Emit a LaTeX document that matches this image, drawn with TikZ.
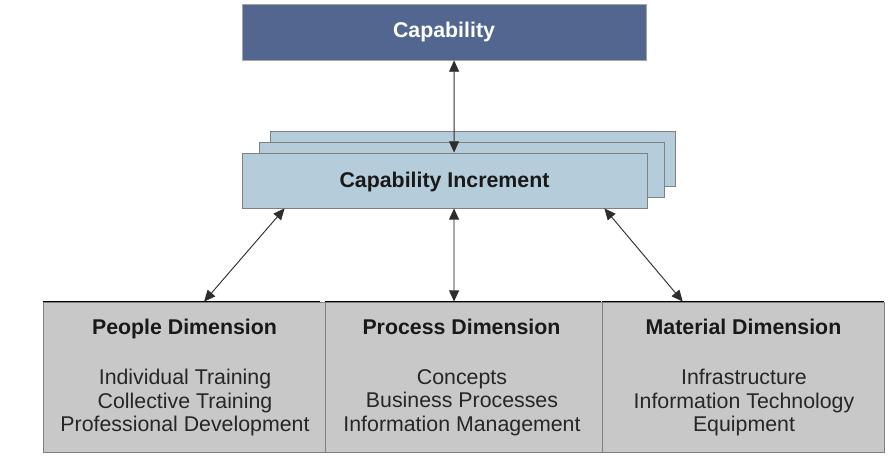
\documentclass[tikz,border=0pt]{standalone}
\usepackage{fontspec}
\setmainfont{Liberation Sans}
\usetikzlibrary{calc,arrows.meta}
\definecolor{capblue}{HTML}{526690}
\definecolor{incblue}{HTML}{B5CCDA}
\definecolor{dimgray}{HTML}{C8C8C8}
\definecolor{arrowc}{HTML}{2E2E2E}
\tikzset{
  txt/.style={font=\fontsize{16}{17.7}\selectfont, inner sep=0pt, align=center},
  btxt/.style={font=\fontsize{16}{17.7}\selectfont\bfseries, inner sep=0pt, anchor=base},
  capbox/.style={fill=capblue, draw=gray!70, line width=0.6pt, minimum width=303pt, minimum height=42pt, inner sep=0pt},
  incbox/.style={fill=incblue, draw=gray, line width=0.6pt, minimum width=303.75pt, minimum height=41.25pt, inner sep=0pt},
  dimbox/.style={fill=dimgray, draw=gray, line width=0.6pt, minimum height=112.5pt, inner sep=0pt},
  topline/.style={black, line width=1.2pt},
  conn/.style={arrowc, line width=0.7pt, {Triangle[length=8.5pt,width=7.5pt,color=arrowc]}-{Triangle[length=8.5pt,width=7.5pt,color=arrowc]}}
}
\begin{document}
\begin{tikzpicture}[x=0.75pt,y=-0.75pt]
\useasboundingbox (0,0) rectangle (893,460);
% Capability
\node[capbox] (cap) at (444,32) {};
\node[btxt, text=white] (captxt) at (444,37.5) {Capability};
% Capability increment stack
\node[incbox] (inc3) at (472.5,158.5) {};
\node[incbox] (inc2) at (461.5,169.5) {};
\node[incbox] (inc) at (444.5,180.5) {};
\node[btxt, text=black!90] (inctxt) at (444.5,187.5) {Capability Increment};
% Dimension boxes
\node[dimbox, minimum width=211.5pt] (ppl) at (184,377) {};
\node[dimbox, minimum width=207.75pt] (proc) at (463.5,377) {};
\node[dimbox, minimum width=211.5pt] (mat) at (743,377) {};
\draw[topline] (ppl.north west) -- ([xshift=-4pt]ppl.north east);
\draw[topline] (proc.north west) -- ([xshift=-1pt]proc.north east);
\draw[topline] (mat.north west) -- (mat.north east);
% Dimension texts
\node[btxt, text=black!90] (ppltitle) at (184.5,334.5) {People Dimension};
\node[txt, text=black!85] (ppllist) at (185,402.5) {Individual Training\\Collective Training\\Professional Development};
\node[btxt, text=black!90] (proctitle) at (461.5,334.5) {Process Dimension};
\node[txt, text=black!85] (proclist) at (462,402.5) {Concepts\\Business Processes\\Information Management};
\node[btxt, text=black!90] (mattitle) at (743.5,334.5) {Material Dimension};
\node[txt, text=black!85] (matlist) at (744,402.5) {Infrastructure\\Information Technology\\Equipment};
% Connectors
\draw[conn] ($(cap.south west)!0.525!(cap.south east)$) -- ($(inc.north west)!0.5235!(inc.north east)$);
\draw[conn] ($(inc.south west)!0.106!(inc.south east)$) -- ($(ppl.north west)!0.571!(ppl.north east)$);
\draw[conn, draw=gray, line width=1pt] ($(inc.south west)!0.5235!(inc.south east)$) -- ($(proc.north west)!0.466!(proc.north east)$);
\draw[conn] ($(inc.south west)!0.894!(inc.south east)$) -- ($(mat.north west)!0.287!(mat.north east)$);
\end{tikzpicture}
\end{document}
